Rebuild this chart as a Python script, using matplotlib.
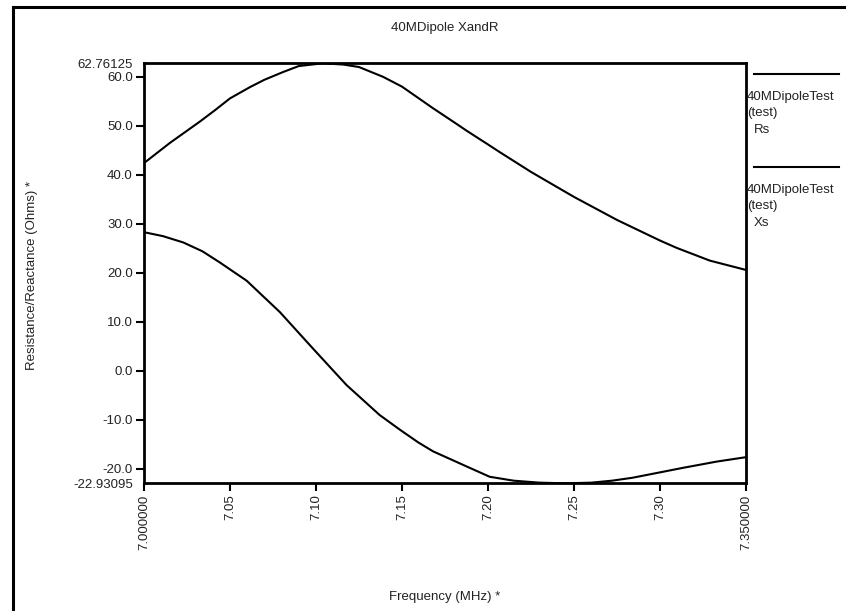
import matplotlib
matplotlib.use('Agg')
import matplotlib.pyplot as plt
from matplotlib.lines import Line2D

# Rs (resistance)
freq_rs = [7.000, 7.015, 7.0326, 7.0413, 7.05, 7.0616, 7.07, 7.081, 7.09, 7.104,
           7.116, 7.125, 7.139, 7.15, 7.168, 7.18, 7.1876, 7.20, 7.207, 7.225,
           7.25, 7.275, 7.30, 7.3097, 7.329, 7.35]
rs = [42.4, 46.5, 50.9, 53.2, 55.6, 57.9, 59.4, 61.0, 62.2, 62.76,
      62.5, 62.0, 60.0, 58.0, 53.6, 50.8, 49.0, 46.2, 44.6, 40.6,
      35.5, 30.8, 26.6, 25.1, 22.5, 20.6]

# Xs (reactance)
freq_xs = [7.000, 7.011, 7.0229, 7.034, 7.0442, 7.0597, 7.079, 7.0984, 7.1178, 7.137,
           7.1488, 7.1595, 7.168, 7.1876, 7.201, 7.215, 7.23, 7.245, 7.26, 7.272,
           7.284, 7.30, 7.313, 7.333, 7.35]
xs = [28.3, 27.5, 26.2, 24.4, 22.1, 18.4, 12.0, 4.5, -2.9, -9.0,
      -12.0, -14.6, -16.4, -19.5, -21.6, -22.4, -22.8, -22.93, -22.8, -22.4,
      -21.8, -20.7, -19.8, -18.5, -17.6]

y_min, y_max = -22.93095, 62.76125
x_min, x_max = 7.0, 7.35
x_ticks = [7.00, 7.05, 7.10, 7.15, 7.20, 7.25, 7.30, 7.35]
x_labels = ['7.000000', '7.05', '7.10', '7.15', '7.20', '7.25', '7.30', '7.350000']
y_ticks = [-20, -10, 0, 10, 20, 30, 40, 50, 60]
y_labels = ['-20.0', '-10.0', '0.0', '10.0', '20.0', '30.0', '40.0', '50.0', '60.0']

plt.rcParams['font.family'] = ['Liberation Sans', 'DejaVu Sans']
FS = 9.5
TXT = '#222222'

fig = plt.figure(figsize=(8.46, 6.11), dpi=100)
ax = fig.add_axes([0.1702, 0.2090, 0.7116, 0.6874])

ax.plot(freq_rs, rs, color='black', lw=1.5)
ax.plot(freq_xs, xs, color='black', lw=1.5)

ax.set_xlim(x_min, x_max)
ax.set_ylim(y_min, y_max)

ax.set_xticks(x_ticks)
ax.set_xticklabels(x_labels, rotation=90, fontsize=FS, color=TXT)
ax.set_yticks(y_ticks)
ax.set_yticklabels(y_labels, fontsize=FS, color=TXT)
# axis limits shown as labels without ticks
ax.set_yticks([y_min, y_max], minor=True)
ax.set_yticklabels(['%.5f' % y_min, '%.5f' % y_max], minor=True, fontsize=FS, color=TXT)
ax.tick_params(axis='both', which='major', length=6, width=1.5, direction='out', pad=2)
ax.tick_params(axis='y', which='minor', length=0, pad=8)

for s in ax.spines.values():
    s.set_linewidth(2)

fig.text(0.5256, 1 - 28 / 611, '40MDipole XandR', ha='center', va='center', fontsize=FS, color=TXT)
fig.text(0.5256, 1 - 597 / 611, 'Frequency (MHz) *', ha='center', va='center', fontsize=FS, color=TXT)
fig.text(32 / 846, 1 - 275 / 611, 'Resistance/Reactance (Ohms) *', ha='center', va='center',
         rotation=90, fontsize=FS, color=TXT)

# legend at right, one block per series
legend_names = ['Rs', 'Xs']
for i, name in enumerate(legend_names):
    y0 = 74 + i * 93
    fig.add_artist(Line2D([754 / 846, 839 / 846], [1 - y0 / 611, 1 - y0 / 611], color='black', lw=1.5))
    fig.text(747 / 846, 1 - (y0 + 23) / 611, '40MDipoleTest', ha='left', va='center', fontsize=FS, color=TXT)
    fig.text(747 / 846, 1 - (y0 + 39) / 611, '(test)', ha='left', va='center', fontsize=FS, color=TXT)
    fig.text(754 / 846, 1 - (y0 + 56) / 611, name, ha='left', va='center', fontsize=FS, color=TXT)

# outer frame (left and top edges visible)
fig.add_artist(Line2D([13 / 846, 13 / 846], [0, 1 - 7 / 611], color='black', lw=2.2))
fig.add_artist(Line2D([13 / 846, 1], [1 - 7 / 611, 1 - 7 / 611], color='black', lw=2.2))

fig.savefig('out.png', dpi=100)
